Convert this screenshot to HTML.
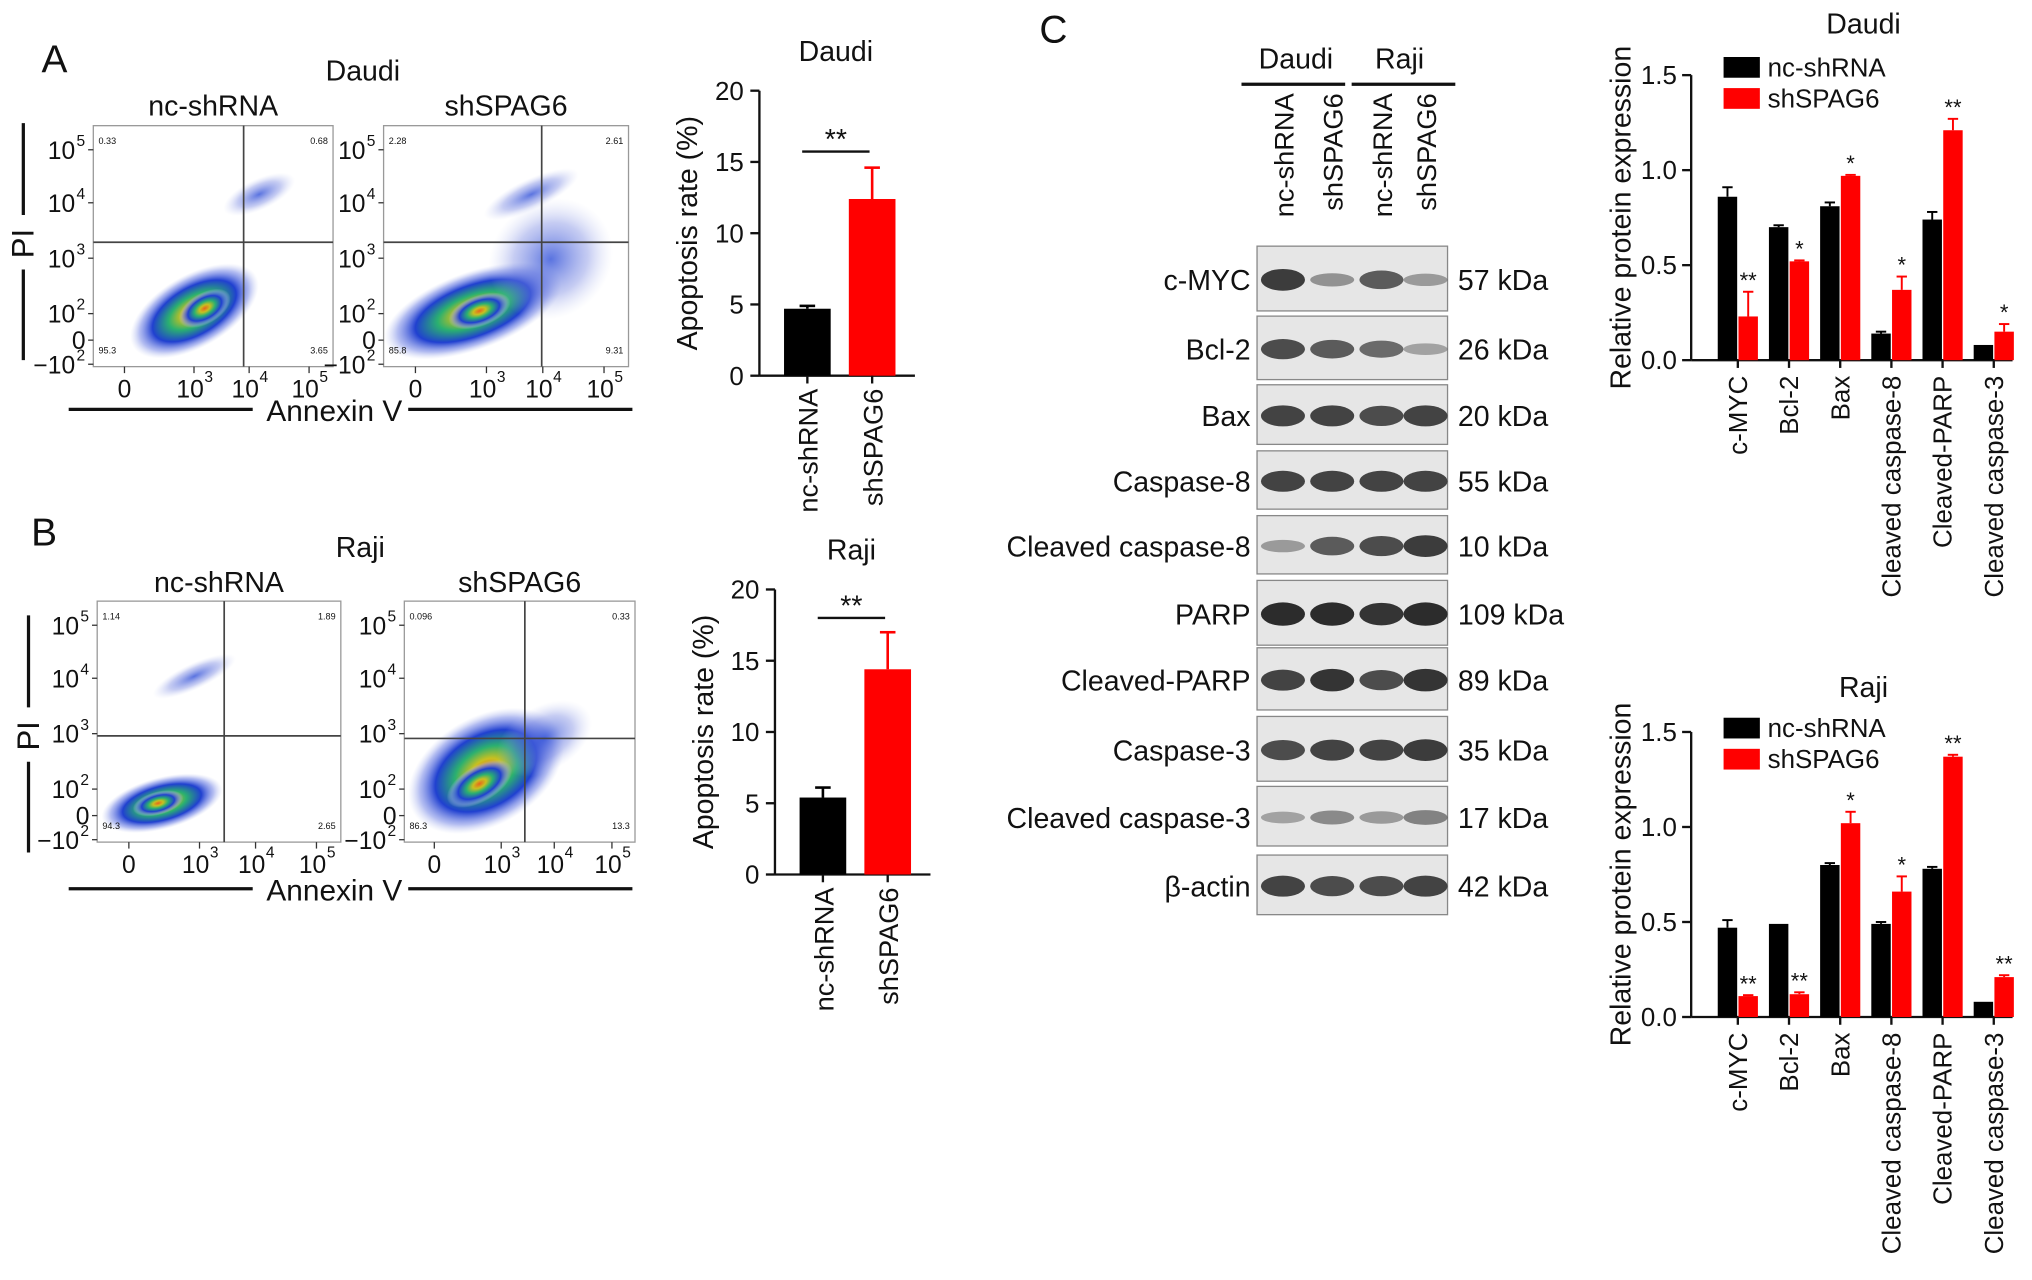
<!DOCTYPE html>
<html><head><meta charset="utf-8">
<style>
html,body{margin:0;padding:0;background:#fff;}
svg{display:block;font-family:"Liberation Sans",Arial,sans-serif;}
</style></head>
<body>
<svg id="fig" width="2032" height="1280" viewBox="0 0 1568 988" preserveAspectRatio="none" xmlns="http://www.w3.org/2000/svg">
<defs>
<radialGradient id="dens" cx="50%" cy="50%" r="50%">
<stop offset="0" stop-color="#e8651c"/><stop offset="0.2" stop-color="#c8c020"/><stop offset="0.4" stop-color="#2ab070"/><stop offset="0.65" stop-color="#2040d0"/><stop offset="0.85" stop-color="#8090e8" stop-opacity="0.6"/><stop offset="1" stop-color="#c0c8f0" stop-opacity="0"/>
</radialGradient>
<radialGradient id="dens2" cx="50%" cy="50%" r="50%">
<stop offset="0" stop-color="#3050d8" stop-opacity="0.8"/><stop offset="0.6" stop-color="#7080e0" stop-opacity="0.4"/><stop offset="1" stop-color="#c0c8f0" stop-opacity="0"/>
</radialGradient>
</defs>
<g id="root"></g>
</svg>
<script>
// ===== Data =====
const apopGroups = ['nc-shRNA','shSPAG6'];
const daudiApop = [4.7, 12.4];
const daudiApopErr = [0.2, 2.2];
const rajiApop = [5.4, 14.4];
const rajiApopErr = [0.7, 2.6];
const apopTicks = [0,5,10,15,20];

const proteins = ['c-MYC','Bcl-2','Bax','Cleaved caspase-8','Cleaved-PARP','Cleaved caspase-3'];
const daudiNc = [0.86,0.70,0.81,0.14,0.74,0.08];
const daudiNcErr = [0.05,0.01,0.02,0.01,0.04,0.0];
const daudiSh = [0.23,0.52,0.97,0.37,1.21,0.15];
const daudiShErr = [0.13,0.005,0.005,0.07,0.06,0.04];
const daudiStars = ['**','*','*','*','**','*'];
const rajiNc = [0.47,0.49,0.80,0.49,0.78,0.08];
const rajiNcErr = [0.04,0.0,0.01,0.01,0.01,0.0];
const rajiSh = [0.11,0.12,1.02,0.66,1.37,0.21];
const rajiShErr = [0.005,0.01,0.06,0.08,0.01,0.01];
const rajiStars = ['**','**','*','*','**','**'];
const protTicks = [0.0,0.5,1.0,1.5];

const blotRows = ['c-MYC','Bcl-2','Bax','Caspase-8','Cleaved caspase-8','PARP','Cleaved-PARP','Caspase-3','Cleaved caspase-3','β-actin'];
const blotKda = ['57 kDa','26 kDa','20 kDa','55 kDa','10 kDa','109 kDa','89 kDa','35 kDa','17 kDa','42 kDa'];
const blotIntensity = [[0.9,0.35,0.7,0.3],[0.8,0.7,0.6,0.25],[0.85,0.85,0.8,0.85],[0.85,0.85,0.85,0.85],[0.3,0.7,0.8,0.9],[1,1,0.95,1],[0.85,0.95,0.8,0.95],[0.8,0.85,0.85,0.9],[0.25,0.4,0.3,0.45],[0.85,0.8,0.8,0.85]];

const NS='http://www.w3.org/2000/svg';
const root=document.getElementById('root');
function el(tag,attrs,parent){const e=document.createElementNS(NS,tag);for(const k in attrs)e.setAttribute(k,attrs[k]);(parent||root).appendChild(e);return e;}
function txt(s,x,y,size,attrs,parent){const t=el('text',Object.assign({x:x,y:y,'font-size':size,fill:'#111'},attrs||{}),parent);t.textContent=s;return t;}

// ===== Panel labels =====
let t;
t=txt('A',32,56,30);
t=txt('B',24,421,30);
t=txt('C',802,33,30);

// ===== Flow plots =====
function flowPanel(cfg){
  const g=el('g',{});
  
  
  txt(cfg.cell,cfg.cellX,cfg.titleY,22,{'text-anchor':'middle'},g);
  cfg.plots.forEach((p,i)=>{
    const pg=el('g',{},g);
    
    
    txt(p.label,(p.x0+p.x1)/2,cfg.titleY+27,22,{'text-anchor':'middle'},pg);
    el('rect',{x:p.x0,y:p.y0,width:p.x1-p.x0,height:p.y1-p.y0,fill:'#fff',stroke:'#999','stroke-width':1},pg);
    // density blobs
    p.blobs.forEach(b=>{el('ellipse',{cx:b[0],cy:b[1],rx:b[2],ry:b[3],fill:b[4]?'url(#dens2)':'url(#dens)',transform:`rotate(${b[5]||-25} ${b[0]} ${b[1]})`},pg);});
    el('line',{x1:p.vx,x2:p.vx,y1:p.y0,y2:p.y1,stroke:'#444','stroke-width':1.3},pg);
    el('line',{x1:p.x0,x2:p.x1,y1:p.hy,y2:p.hy,stroke:'#444','stroke-width':1.3},pg);
    // quadrant numbers
    txt(p.q[0],p.x0+4,p.y0+14,7,{},pg);txt(p.q[1],p.x1-4,p.y0+14,7,{'text-anchor':'end'},pg);
    txt(p.q[2],p.x0+4,p.y1-10,7,{},pg);txt(p.q[3],p.x1-4,p.y1-10,7,{'text-anchor':'end'},pg);
    // y ticks
    const h=p.y1-p.y0;
    const yl=[['10','5',0.1],['10','4',0.32],['10','3',0.55],['10','2',0.78],['0','',0.89],['−10','2',0.99]];
    yl.forEach(a=>{const yy=p.y0+a[2]*h;el('line',{x1:p.x0-4,x2:p.x0,y1:yy,y2:yy,stroke:'#333'},pg);
      const tt=txt(a[0],p.x0-(a[1]?14:6),yy+7,19,{'text-anchor':'end'},pg);
      if(a[1]){txt(a[1],p.x0-13,yy-3,12,{'text-anchor':'start'},pg);}
    });
    const w=p.x1-p.x0;
    const xl=[['0','',0.13],['10','3',0.42],['10','4',0.65],['10','5',0.9]];
    xl.forEach(a=>{const xx=p.x0+a[2]*w;el('line',{x1:xx,x2:xx,y1:p.y1,y2:p.y1+5,stroke:'#333'},pg);
      txt(a[0],xx-(a[1]?3:0),p.y1+24,19,{'text-anchor':'middle'},pg);
      if(a[1])txt(a[1],xx+8,p.y1+12,12,{},pg);});
  });
  // PI label
  const pl=txt('PI',0,0,24,{'text-anchor':'middle',transform:`translate(${cfg.piX+8},${cfg.piY}) rotate(-90)`},g);
  el('line',{x1:cfg.piX,x2:cfg.piX,y1:cfg.piY-93,y2:cfg.piY-22,stroke:'#111','stroke-width':2.5},g);
  el('line',{x1:cfg.piX,x2:cfg.piX,y1:cfg.piY+20,y2:cfg.piY+90,stroke:'#111','stroke-width':2.5},g);
  txt('Annexin V',cfg.axX,cfg.axY+9,23,{'text-anchor':'middle'},g);
  el('line',{x1:cfg.axX-205,x2:cfg.axX-63,y1:cfg.axY,y2:cfg.axY,stroke:'#111','stroke-width':2.5},g);
  el('line',{x1:cfg.axX+57,x2:cfg.axX+230,y1:cfg.axY,y2:cfg.axY,stroke:'#111','stroke-width':2.5},g);
}
flowPanel({name:'flow-panel-daudi',cell:'Daudi',cellX:280,titleY:62,piX:18,piY:188,axX:258,axY:316,plots:[
  {label:'nc-shRNA',x0:72,x1:257,y0:97,y1:283,vx:188,hy:187,q:['0.33','0.68','95.3','3.65'],
   blobs:[[150,240,55,28,0,-30],[158,238,22,12,0,-30],[200,150,30,12,1,0]]},
  {label:'shSPAG6',x0:296,x1:485,y0:97,y1:283,vx:418,hy:187,q:['2.28','2.61','85.8','9.31'],
   blobs:[[365,240,72,30,0,-20],[370,240,25,12,0,-20],[425,200,50,45,1,-40],[410,150,40,12,1,0]]}]});
flowPanel({name:'flow-panel-raji',cell:'Raji',cellX:278,titleY:430,piX:22,piY:568,axX:258,axY:686,plots:[
  {label:'nc-shRNA',x0:75,x1:263,y0:464,y1:650,vx:173,hy:568,q:['1.14','1.89','94.3','2.65'],
   blobs:[[125,620,48,20,0,-15],[122,620,20,9,0,-15],[150,522,35,10,1,0]]},
  {label:'shSPAG6',x0:312,x1:490,y0:464,y1:650,vx:405,hy:570,q:['0.096','0.33','86.3','13.3'],
   blobs:[[375,595,65,42,0,-30],[370,605,28,14,0,-30],[420,570,40,25,1,-30]]}]});

// ===== Apoptosis bar charts =====
function apopChart(cfg){
  const g=el('g',{});
  
  
  const y=v=>cfg.y0-(v/20)*(cfg.y0-cfg.y20);
  txt(cfg.title,cfg.titleX,cfg.titleY,22,{'text-anchor':'middle'},g);
  el('line',{x1:cfg.ax,x2:cfg.ax,y1:y(20),y2:y(0),stroke:'#111','stroke-width':1.8},g);
  el('line',{x1:cfg.ax,x2:cfg.ax+120,y1:y(0),y2:y(0),stroke:'#111','stroke-width':1.8},g);
  apopTicks.forEach(v=>{el('line',{x1:cfg.ax-7,x2:cfg.ax,y1:y(v),y2:y(v),stroke:'#111','stroke-width':1.8},g);
    txt(String(v),cfg.ax-12,y(v)+7,20,{'text-anchor':'end'},g);});
  txt('Apoptosis rate (%)',0,0,22,{'text-anchor':'middle',transform:`translate(${cfg.ax-48},${y(10)}) rotate(-90)`},g);
  const vals=cfg.vals, errs=cfg.errs, cols=['#000','#ff0000'];
  vals.forEach((v,i)=>{
    const cx=cfg.ax+37+i*50;
    const b=el('rect',{x:cx-18,y:y(v),width:36,height:y(0)-y(v),fill:cols[i]},g);
    
    
    el('line',{x1:cx,x2:cx,y1:y(v),y2:y(v+errs[i]),stroke:cols[i],'stroke-width':2},g);
    el('line',{x1:cx-6,x2:cx+6,y1:y(v+errs[i]),y2:y(v+errs[i]),stroke:cols[i],'stroke-width':2},g);
    el('line',{x1:cx,x2:cx,y1:y(0),y2:y(0)+6,stroke:'#111','stroke-width':1.8},g);
    txt(apopGroups[i],0,0,21,{'text-anchor':'end',transform:`translate(${cx+8},${y(0)+10}) rotate(-90)`},g);
  });
  el('line',{x1:cfg.ax+33,x2:cfg.ax+85,y1:cfg.sigY,y2:cfg.sigY,stroke:'#111','stroke-width':1.8},g);
  txt('**',cfg.ax+59,cfg.sigY-2,22,{'text-anchor':'middle'},g);
}
apopChart({name:'apoptosis-chart-daudi',title:'Daudi',titleX:645,titleY:47,ax:586,y0:290,y20:70,vals:daudiApop,errs:daudiApopErr,sigY:117});
apopChart({name:'apoptosis-chart-raji',title:'Raji',titleX:657,titleY:432,ax:598,y0:675,y20:455,vals:rajiApop,errs:rajiApopErr,sigY:477});

// ===== Western blot =====
(function(){
  const g=el('g',{});
  
  
  txt('Daudi',1000,53,22,{'text-anchor':'middle'},g);
  txt('Raji',1080,53,22,{'text-anchor':'middle'},g);
  el('line',{x1:958,x2:1038,y1:65,y2:65,stroke:'#111','stroke-width':2.5},g);
  el('line',{x1:1043,x2:1123,y1:65,y2:65,stroke:'#111','stroke-width':2.5},g);
  const lanes=['nc-shRNA','shSPAG6','nc-shRNA','shSPAG6'], lx=[990,1028,1066,1100];
  lanes.forEach((l,i)=>txt(l,0,0,21,{'text-anchor':'end',transform:`translate(${lx[i]+8},${72}) rotate(-90)`},g));
  const tops=[190,244,297,348,398,448,500,553,607,660], bots=[242,295,345,395,445,500,550,605,655,708];
  blotRows.forEach((r,i)=>{
    const rg=el('g',{},g);
    
    
    el('rect',{x:970,y:tops[i],width:147,height:bots[i]-tops[i]-2,fill:'#e6e6e6',stroke:'#888','stroke-width':1},rg);
    const cy=(tops[i]+bots[i])/2;
    lx.forEach((x,j)=>{const a=blotIntensity[i][j];
      el('ellipse',{cx:x,cy:cy,rx:17,ry:3+6*a,fill:'#222','fill-opacity':0.15+0.8*a},rg);});
    txt(r,965,cy+8,22,{'text-anchor':'end'},rg);
    txt(blotKda[i],1125,cy+8,22,{},rg);
  });
})();

// ===== Protein expression charts =====
function protChart(cfg){
  const g=el('g',{});
  
  
  const y=v=>cfg.y0-(v/1.5)*(cfg.y0-cfg.y15);
  const ax=1305, step=39.5;
  const cxs=proteins.map((p,i)=>ax+36+i*step);
  txt(cfg.title,1438,cfg.titleY,22,{'text-anchor':'middle'},g);
  el('line',{x1:ax,x2:ax,y1:y(1.5),y2:y(0),stroke:'#111','stroke-width':1.8},g);
  el('line',{x1:ax,x2:1553,y1:y(0),y2:y(0),stroke:'#111','stroke-width':1.8},g);
  protTicks.forEach(v=>{el('line',{x1:ax-7,x2:ax,y1:y(v),y2:y(v),stroke:'#111','stroke-width':1.8},g);
    txt(v.toFixed(1),ax-11,y(v)+7,20,{'text-anchor':'end'},g);});
  txt('Relative protein expression',0,0,22,{'text-anchor':'middle',transform:`translate(${ax-47},${y(0.75)+ (cfg.ytOff||0)}) rotate(-90)`},g);
  // legend
  const lg=el('g',{},g);
  
  
  el('rect',{x:1330,y:cfg.legY,width:28,height:16,fill:'#000'},lg);
  txt('nc-shRNA',1364,cfg.legY+15,20,{},lg);
  el('rect',{x:1330,y:cfg.legY+24,width:28,height:16,fill:'#ff0000'},lg);
  txt('shSPAG6',1364,cfg.legY+39,20,{},lg);
  proteins.forEach((p,i)=>{
    const cx=cxs[i];
    const series=[[cfg.nc,cfg.ncErr,'#000',-8],[cfg.sh,cfg.shErr,'#ff0000',8]];
    series.forEach((s,k)=>{
      const v=s[0][i], e=s[1][i], bx=cx+s[3];
      const b=el('rect',{x:bx-7.5,y:y(v),width:15,height:y(0)-y(v),fill:s[2]},g);
      
      
      if(e>0){el('line',{x1:bx,x2:bx,y1:y(v),y2:y(v+e),stroke:s[2],'stroke-width':1.5},g);
        el('line',{x1:bx-4,x2:bx+4,y1:y(v+e),y2:y(v+e),stroke:s[2],'stroke-width':1.5},g);}
      if(k===1)txt(cfg.stars[i],bx,y(v+e)-3,17,{'text-anchor':'middle'},g);
    });
    el('line',{x1:cx,x2:cx,y1:y(0),y2:y(0)+6,stroke:'#111','stroke-width':1.8},g);
    txt(p,0,0,20,{'text-anchor':'end',transform:`translate(${cx+7},${y(0)+12}) rotate(-90)`},g);
  });
}
protChart({name:'protein-chart-daudi',title:'Daudi',titleY:26,y0:278,y15:58,legY:44,nc:daudiNc,ncErr:daudiNcErr,sh:daudiSh,shErr:daudiShErr,stars:daudiStars});
protChart({name:'protein-chart-raji',title:'Raji',titleY:538,y0:785,y15:565,legY:554,nc:rajiNc,ncErr:rajiNcErr,sh:rajiSh,shErr:rajiShErr,stars:rajiStars});
</script>
</body></html>
